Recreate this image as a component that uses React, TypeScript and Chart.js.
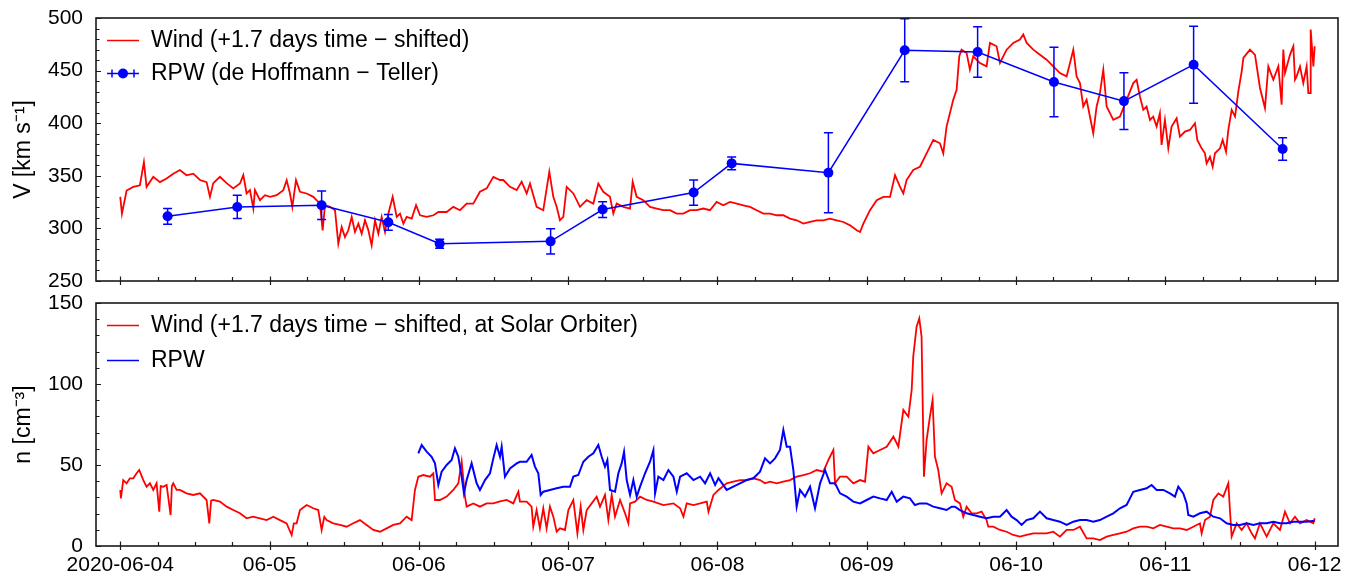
import React, { useEffect, useRef } from 'react';
import { Chart, registerables } from 'chart.js';

Chart.register(...registerables);

const FONT = "'Liberation Sans', Arial, sans-serif";
const RED = '#ff0000';
const BLUE = '#0000ff';

// x axis: hours since 2020-06-04 00:00
const X_MIN = -3.9;
const X_MAX = 195.75;
const xTickLabels = ['2020-06-04', '06-05', '06-06', '06-07', '06-08', '06-09', '06-10', '06-11', '06-12'];
const xTickHours = [0, 24, 48, 72, 96, 120, 144, 168, 192];
const vTicks = [250, 300, 350, 400, 450, 500];
const nTicks = [0, 50, 100, 150];

// ---- Top panel: Wind velocity (time-shifted) ----
const windVHours = [
  0.0, 0.27, 1.02, 2.09, 3.16, 3.8, 4.23, 5.31, 6.38, 7.45, 8.52, 9.59, 10.66, 11.74, 12.81, 13.88, 14.42, 14.95,
  16.02, 17.1, 18.17,
  19.24, 19.78, 20.31, 20.85, 21.39, 21.65, 22.46, 23.26, 24.07, 25.14, 26.21, 26.75, 27.28, 27.66, 28.25, 28.89,
  29.96, 31.03, 32.1, 32.53, 32.91, 33.71, 34.52, 35.05, 35.59, 36.12, 36.66, 37.2, 37.73, 38.27, 38.81, 39.34,
  39.88, 40.41, 40.95, 41.49, 42.02, 42.56, 43.1, 43.79, 44.44, 44.97, 45.51, 46.04, 46.85, 47.55, 48.19, 49.26,
  50.34, 51.14,
  52.47, 53.54, 54.61, 55.68, 56.75, 57.82, 58.9, 59.97, 61.04, 61.57, 62.65, 63.72, 64.52, 65.33, 65.86, 66.93,
  68.0, 68.97, 69.61, 70.15, 70.68, 71.22, 71.76, 72.83, 73.9, 74.97, 76.04, 76.85, 77.65, 78.72, 79.26, 79.8,
  80.87, 81.94, 82.37, 83.01, 84.08, 85.15, 86.23, 87.3, 88.37, 89.44, 90.51, 91.59, 92.66, 93.73, 94.8, 95.87,
  96.94, 98.02, 99.09, 100.16, 101.23, 102.3, 103.37, 104.45, 105.52, 106.59, 107.66, 108.73, 109.81, 110.88,
  111.95, 113.02, 114.09, 115.16, 116.24, 117.31, 118.38, 118.92, 119.45, 120.52, 121.6, 122.67, 123.74, 124.54,
  125.35, 125.87, 126.4, 127.47, 128.55, 129.62, 130.69, 131.76, 132.3, 132.83, 133.9, 134.44, 134.87, 135.24,
  136.05, 136.58, 137.12, 138.19, 139.26, 139.8, 140.87, 141.41, 142.48, 143.55, 144.62, 145.16, 145.7, 146.77,
  147.84, 148.91, 149.98, 151.05, 152.13, 153.2, 153.73, 154.27, 154.8, 155.34, 156.41, 156.95, 157.48, 158.02,
  158.56, 159.63, 160.7, 161.77, 162.84, 163.38,
  163.91, 164.45, 164.98, 165.52, 166.05, 166.59, 167.12, 167.39, 167.93, 168.47, 169.0, 169.81, 170.34, 171.15,
  171.95, 172.76, 173.13, 173.83, 174.36, 174.63, 175.17, 175.6, 175.97, 176.78, 177.21, 177.75, 178.12, 178.66,
  179.2, 179.73, 180.27, 180.54,
  181.6, 182.41, 183.21, 184.01, 184.55, 185.35, 186.16, 186.69, 186.96, 187.23, 188.03, 188.57, 188.84, 189.1,
  189.64, 190.17, 190.71, 190.98, 191.25, 191.36, 191.79, 192.0,
];
const windV = [
  330, 314, 336, 339.5, 341, 363, 339.5, 349, 344, 347.5, 352, 355.5, 350.5, 352, 346, 344, 330, 343,
  349, 343, 338,
  342.7, 350.7, 333.2, 336.4, 318.9, 336.4, 326.8, 331.6, 330, 331.6, 336.4, 345.9, 333.2, 320.5, 345.9, 334.8,
  333.2, 330, 323.6, 298.2, 322, 320.5, 317.3, 285.5, 301.3, 291.8, 298.2, 310.9, 296.6, 304.5, 295, 307.7,
  298.2, 283.9, 307.7, 295, 310.9, 296.6, 314.1, 330, 310.9, 314.1, 304.5, 310.9, 309.3, 322, 312.5, 310.9,
  312.5, 315.6,
  315.6, 320.5, 317.3, 323.6, 323.6, 334.8, 338, 349, 346, 346, 339.5, 336.4, 344.4, 333.2, 342.7, 320.5,
  317.3, 353.9, 330, 320.5, 307.7, 310.9, 339.5, 333.2, 320.5, 326.8, 323.6, 342.7, 334.8, 330, 314.1, 323.6,
  320.5, 318.9, 344.4, 330, 326.8, 320.5, 318.9, 317.3, 317.3, 314.1, 314.1, 317.3, 317.3, 318.9, 317.3, 325.2,
  322, 325.2, 323.6, 322, 320.5, 317.3, 314.1, 314.1, 312.5, 312.5, 309.3, 307.7, 304.5, 306.1,
  307.7, 307.7, 309.3, 307.7, 306.1, 302.9, 298.2, 296.6, 304.5, 317.3, 326.8, 330, 330, 350.7,
  339.5, 333.2, 346, 355.5, 358.6, 371.3, 384.1, 380.9, 371.3, 396.8, 422.2, 431.8, 463.6, 469.9,
  466.8, 450.9, 463.6, 457.2, 454, 476.3, 473.1, 457.2, 469.9, 476.3, 479.5, 484.3, 476.3, 469.9,
  465.1, 460.4, 454, 447.7, 444.5, 469.9, 444.5, 438.1, 415.9, 422.2, 390.4, 415.9, 428.6, 450.9,
  415.9, 403.2, 406.3, 422.2, 438.1, 441.3,
  425.4, 412.7, 415.8, 403.1, 406.3, 396.8, 409.5, 379.3, 403.1, 376.1, 396.8, 404.7, 387.2, 392,
  393.6, 400, 384.1, 376.1, 371.4, 361.8, 368.1, 358.6, 371.4, 376.1, 384.1, 372.9, 393.6, 412.7,
  406.3, 430.2, 449.3, 462,
  469.9, 465, 433.5, 414.4, 454, 441.3, 454, 417.6, 470, 447.7, 465, 473.1, 441.3, 444.5,
  454, 438.1, 454, 428.6, 428.6, 489, 454, 473.1,
];

// ---- Top panel: RPW de Hoffmann-Teller velocity with error bars ----
const rpwVHours = [7.61, 18.81, 32.37, 43.09, 51.34, 69.18, 77.54, 92.17, 98.28, 113.83, 126.1, 137.82, 150.09, 161.34, 172.54, 186.85];
const rpwV = [311.5, 320.4, 322, 305.8, 285.5, 287.7, 317.9, 334.1, 361.8, 352.9, 469.3, 467.7, 439.1, 421, 455.6, 375.5];
const rpwVErr = [7.5, 11, 13.5, 7.5, 4.3, 12, 7.5, 12, 6, 38, 30, 24, 33, 27, 36.6, 10.7];

// ---- Bottom panel: Wind density (time-shifted, at Solar Orbiter) ----
const windNHours = [
  0.0, 0.1, 0.48, 1.02, 1.55, 2.09, 2.63, 3.05, 3.7, 4.23, 4.77, 5.31, 5.84, 6.27, 6.5, 6.91, 7.45, 8.09, 8.3,
  8.52, 9.06, 9.59, 10.66, 11.74, 12.81, 13.88, 14.31, 14.6, 14.95, 16.02, 17.1, 18.17, 19.24, 20.31, 21.38,
  22.45, 23.53, 24.6, 25.67, 26.74, 27.55, 27.9, 28.35, 28.89, 29.96, 31.03, 31.83, 32.37, 32.8, 33.17, 34.24,
  35.32, 36.39, 37.46, 38.53, 39.6, 40.68, 41.75, 42.82, 43.89, 44.96, 46.03, 46.84, 47.37, 47.91, 48.71, 49.79,
  50.32, 50.59, 51.39, 52.47, 53.54, 54.34, 54.88, 55.41, 55.68, 56.75, 57.82, 58.9, 59.97, 61.04, 62.11, 63.18,
  63.99,
  64.25, 65.32, 66.12, 66.39, 66.93, 67.46, 68.0, 68.54, 69.07, 69.61, 70.15, 70.68, 71.49, 72.03, 72.83, 73.48,
  74.01, 74.44, 74.98, 75.78, 76.58, 77.12, 77.92, 78.46, 79.0, 79.53, 80.34, 81.14, 81.68, 81.95, 82.75, 83.56,
  84.63, 85.7, 87.31, 88.92, 89.99, 90.53, 91.06, 92.14, 93.21, 94.28, 94.55, 95.35, 96.16,
  97.48, 98.55, 99.62, 100.7, 101.77, 102.84,
  103.64, 104.45, 105.52, 106.59, 107.66, 108.73, 109.81, 110.88, 111.95, 113.02, 113.83, 114.63, 114.9, 115.7,
  116.77, 117.84, 118.92, 119.72, 120.26, 121.06, 122.13, 123.2, 124.28, 125.08, 125.88, 126.69, 127.22, 127.47,
  128.01, 128.44, 128.81, 129.19, 129.62, 130.15, 130.58, 130.96, 131.49, 132.03, 132.83, 133.64, 134.17, 134.98,
  135.51, 136.05, 136.85, 137.66, 138.46, 139.26, 139.53, 140.34, 141.41, 142.48, 143.55, 144.62, 145.69, 146.77,
  147.84, 148.91, 149.98, 151.05, 152.13, 153.2, 154.27, 155.34, 156.41, 157.48, 158.56, 159.63, 160.7, 161.77,
  162.84, 163.92, 164.99, 166.06, 167.13, 168.2, 169.27, 170.35, 171.42, 172.49, 173.56, 173.83, 174.37, 175.17,
  175.71, 176.51, 177.31, 178.12, 178.38, 178.65, 179.46, 180.26, 181.06, 181.87, 182.4, 183.21, 184.28, 185.35,
  186.42, 187.23, 188.03, 188.84, 189.64, 190.71, 191.78, 192.0,
];
const windN = [
  34.6, 29.4, 40.7, 38.7, 41.8, 41.8, 44.9, 46.9, 40.7, 36.6, 38.7, 34.6, 38.7, 21.2, 37, 36.6, 37.7, 19.1, 37,
  38.7, 34.6, 34.6, 32.5, 31.5, 32.5, 28.4, 14.0, 28, 28.4, 27.4, 24.3, 22.2, 20.2, 17.1, 18.1,
  17.1, 16.0, 18.1, 16.0, 14.0, 6.8, 14, 14.0, 22.2, 25.3, 23.3, 22.2, 9.9, 18, 16.0, 14.0,
  13.0, 11.9, 14.0, 16.0, 13.0, 9.9, 8.8, 10.9, 13.0, 14.0, 18.1, 16.0, 34.6, 42.8, 43.8, 42.8,
  44.9, 28.4, 28.4, 30.5, 34.6, 38.7, 52.1, 30.5, 24.3, 26.3, 24.3, 26.3, 26.3, 27.5, 28.4, 26.3,
  33.5,
  27.4, 27.4, 24.3, 11.9, 22.2, 10.9, 23.3, 10.9, 24.3, 18.1, 8.8, 10.9, 9.9, 22.2, 28.4, 7.8,
  24.3, 9.9, 22.2, 26.3, 30.5, 24.3, 31.5, 16, 31.5, 18.1, 28.4, 20.2, 14, 26.3, 27.4, 30.5,
  28.4, 27.4, 25.3, 26.3, 23.3, 18.1, 26.3, 25.3, 26.3, 27.4, 21.2, 31.5, 34.6,
  38.7, 39.7, 40.7, 40.7, 41.8, 40.7,
  38.7, 39.7, 38.7, 39.7, 40.7, 42.8, 43.8, 44.9, 46.9, 45.9, 53.1, 59.3, 38.7, 42.8,
  42.8, 38.7, 40.7, 39.7, 61.3, 57.2, 59.3, 61.3, 67.5, 61.3, 84.0, 79.8, 96.3, 116.9,
  135.4, 140.5, 129.2, 42.8, 65.4, 79.8, 90.1, 55.1, 46.9, 32.5, 38.7, 36.6, 28.4, 26.3,
  18.1, 24.3, 20.2, 20.2, 21.2, 16.0, 11.9, 11.9, 9.9, 8.8, 6.8, 5.8, 6.8, 7.8,
  7.8, 7.8, 8.8, 5.8, 9.9, 9.9, 11.9, 4.7, 4.7, 3.7, 5.8, 6.8, 7.8, 8.8,
  10.9, 11.9, 11.9, 10.9, 13.0, 11.9, 10.9, 10.9, 9.9, 11.9, 14.0, 7.8, 16.0, 18.1,
  28.4, 32.5, 30.5, 38.7, 22.2, 5.8, 14.0, 9.9, 14.0, 7.8, 4.7, 14.0, 5.8, 14.0,
  9.9, 21.2, 14.0, 18.1, 14.0, 16.0, 14.0, 17.1,
];

// ---- Bottom panel: RPW density ----
const rpwNHours = [
  47.91, 48.45, 49.25, 50.05, 50.59, 51.13, 51.66, 52.47, 53.27, 53.8, 54.34, 54.88, 55.25, 55.68, 56.48, 57.29,
  57.82, 58.63, 59.43, 59.97, 60.5, 61.04, 61.31, 61.84, 62.65, 63.72,
  64.25, 65.32, 66.12, 66.66, 67.2, 67.58, 68.0, 69.07, 70.15, 71.22, 72.29, 72.83, 73.63, 74.44, 75.24, 76.05,
  76.85, 77.39, 77.92, 78.3, 78.73, 79.53, 80.07, 80.6, 80.98, 81.41, 81.95, 82.48, 83.02, 83.56, 84.36, 85.16,
  85.7, 85.97, 86.5, 87.31, 88.11, 88.92, 89.46, 89.99, 91.06, 92.14, 93.21, 94.01, 94.82, 95.62, 96.16,
  97.48, 98.55, 99.62, 100.7, 101.77, 102.84, 103.64, 104.45, 105.25, 106.05, 106.59, 107.13,
  107.66, 108.2, 108.73, 109.27, 110.07, 110.88, 111.68, 112.49, 113.29, 114.09, 114.9, 115.7, 116.77, 117.84,
  118.92, 119.99, 121.06, 122.13, 123.2, 124.01, 124.81, 125.88, 126.94, 127.74, 128.55, 129.62, 130.69, 131.76,
  132.83, 133.64, 134.17, 134.98, 136.05, 137.12, 138.19, 139.26, 140.34, 141.41, 142.48, 143.28, 144.09, 144.89,
  145.69, 146.77, 147.84, 148.91, 149.98, 151.05, 152.13, 153.2, 154.27, 155.34, 156.41, 157.48, 158.56, 159.63,
  160.7, 161.77, 162.31, 162.84, 163.92, 164.99, 165.79, 166.59, 167.67, 168.74, 169.54, 170.08, 170.88, 171.42,
  171.69, 172.49, 173.56, 174.63, 175.71, 176.78, 177.85, 178.92, 179.99, 181.06, 182.14, 183.21, 184.28, 185.35,
  186.42, 187.49, 188.57, 189.64, 190.71, 192.0,
];
const rpwN = [
  57.2, 62.3, 58.2, 55.1, 51.0, 37.7, 45.9, 50.0, 53.1, 60.3, 55.1, 42.8, 32.5, 40.7, 51.0, 38.7,
  34.6, 40.7, 44.9, 54.1, 62.3, 55.1, 61.3, 42.8, 47.9, 51.0,
  52, 52, 56.2, 49, 44.9, 31.5, 33.5, 34.6, 35.6, 36.6, 36.6, 42.8, 43.8, 52, 55.1, 57.2,
  62.3, 55.1, 49, 53, 34.6, 33.5, 44.9, 51, 58.2, 40.7, 31.5, 40.7, 30.5, 36.6, 44.9, 52,
  59.1, 32.5, 42.8, 40.7, 46.9, 42.8, 33.5, 42.8, 44.9, 40.7, 42.8, 38.7, 44.9, 37.7, 41.8,
  34.6, 36.6, 38.7, 40.7, 41.8, 45.9, 54.1, 51.0, 54.1, 59.3, 71.6, 61.3,
  61.3, 46.9, 24.3, 34.6, 30.5, 36.6, 23.3, 38.7, 46.9, 38.7, 38.7, 32.5, 30.5, 27.4,
  26.3, 28.4, 30.5, 29.4, 28.4, 33.5, 27.4, 30.5, 29.4, 25.3, 26.3, 26.3, 24.3, 23.3,
  22.2, 24.3, 24.3, 22.2, 20.2, 19.1, 18.1, 17.1, 18.1, 18.1, 22.2, 18.1, 16.0, 13.0,
  16.0, 17.1, 21.2, 17.1, 16.0, 15.0, 13.0, 15.0, 16.0, 16.0, 15.0, 16.0, 18.1, 20.2,
  23.3, 25.3, 29.4, 33.5, 34.6, 35.6, 37.7, 34.6, 34.6, 32.5, 30.5, 36.6, 32.5, 26.3,
  19.1, 18.1, 20.2, 21.2, 18.1, 17.1, 14.0, 13.0, 13.0, 14.0, 13.0, 14.0, 14.0, 15.0,
  14.0, 14.0, 15.0, 15.0, 15.0, 15.6,
];

const pts = (xs: number[], ys: number[]) => xs.map((x, i) => ({ x, y: ys[i] }));

const framePlugin = {
  id: 'frame',
  afterDraw(chart: any, _args: any, opts: any) {
    const { ctx, chartArea } = chart;
    const { left, right, top, bottom } = chartArea;
    const xs = chart.scales.x;
    const ys = chart.scales.y;
    ctx.save();
    ctx.strokeStyle = '#1a1a1a';
    ctx.lineWidth = 1.2;
    ctx.beginPath();
    for (let h = Math.ceil(xs.min / opts.xMinor) * opts.xMinor; h <= xs.max; h += opts.xMinor) {
      const px = Math.round(xs.getPixelForValue(h)) + 0.5;
      const major = Math.abs(h % opts.xMajor) < 1e-6;
      ctx.moveTo(px, bottom + (major ? 4 : 0));
      ctx.lineTo(px, bottom - (major ? 4.5 : 4));
    }
    for (let v = ys.min; v <= ys.max + 1e-6; v += opts.yMinor) {
      const py = Math.round(ys.getPixelForValue(v)) + 0.5;
      const major = Math.abs(v % opts.yMajor) < 1e-6;
      ctx.moveTo(left, py);
      ctx.lineTo(left + (major ? 5 : 3.5), py);
    }
    ctx.stroke();
    ctx.lineWidth = 1.6;
    ctx.strokeRect(left, top, right - left, bottom - top);
    ctx.restore();
  },
};

const errorBarPlugin = {
  id: 'errorBars',
  beforeDatasetDraw(chart: any, args: any) {
    const ds = chart.data.datasets[args.index];
    if (!ds.yErr) return;
    const xs = chart.scales.x;
    const ys = chart.scales.y;
    const ctx = chart.ctx;
    const a = chart.chartArea;
    ctx.save();
    ctx.beginPath();
    ctx.rect(a.left, a.top, a.right - a.left, a.bottom - a.top);
    ctx.clip();
    ctx.strokeStyle = ds.borderColor;
    ctx.lineWidth = 1.5;
    ctx.beginPath();
    ds.data.forEach((p: any, i: number) => {
      const e = ds.yErr[i];
      const px = xs.getPixelForValue(p.x);
      const y1 = ys.getPixelForValue(p.y - e);
      const y2 = ys.getPixelForValue(p.y + e);
      ctx.moveTo(px, y1);
      ctx.lineTo(px, y2);
      ctx.moveTo(px - 4.5, y1);
      ctx.lineTo(px + 4.5, y1);
      ctx.moveTo(px - 4.5, y2);
      ctx.lineTo(px + 4.5, y2);
    });
    ctx.stroke();
    ctx.restore();
  },
};

// legend drawn inside the plot area, top-left, from the datasets' labels
const legendPlugin = {
  id: 'inLegend',
  afterDraw(chart: any, _args: any, opts: any) {
    const { ctx, chartArea } = chart;
    ctx.save();
    chart.data.datasets.forEach((ds: any, i: number) => {
      const cy = Math.round(chartArea.top + opts.firstY + i * opts.spacing) + 0.5;
      const x0 = chartArea.left + 11;
      ctx.strokeStyle = ds.borderColor;
      ctx.fillStyle = ds.borderColor;
      ctx.lineWidth = 1.5;
      ctx.beginPath();
      ctx.moveTo(x0, cy);
      ctx.lineTo(x0 + 32, cy);
      if (ds.yErr) {
        ctx.moveTo(x0 + 5, cy - 4);
        ctx.lineTo(x0 + 5, cy + 4);
        ctx.moveTo(x0 + 27, cy - 4);
        ctx.lineTo(x0 + 27, cy + 4);
      }
      ctx.stroke();
      if (ds.yErr) {
        ctx.beginPath();
        ctx.arc(x0 + 16, cy, 5, 0, Math.PI * 2);
        ctx.fill();
      }
      ctx.fillStyle = '#000';
      ctx.font = `23px ${FONT}`;
      ctx.textAlign = 'left';
      ctx.textBaseline = 'alphabetic';
      ctx.fillText(ds.label, x0 + 44, cy + 6);
    });
    ctx.restore();
  },
};

function xScale(showLabels: boolean, height: number) {
  return {
    type: 'linear',
    min: X_MIN,
    max: X_MAX,
    grid: { display: false, drawTicks: false },
    border: { display: false },
    afterBuildTicks: (s: any) => {
      s.ticks = xTickHours.map((v) => ({ value: v }));
    },
    ticks: {
      display: showLabels,
      autoSkip: false,
      maxRotation: 0,
      padding: 7,
      color: '#000',
      font: { family: FONT, size: 21 },
      callback: (_v: any, i: number) => xTickLabels[i],
    },
    afterFit: (s: any) => {
      s.height = height;
      s.paddingLeft = 0;
      s.paddingRight = 0;
      s.paddingTop = 0;
      s.paddingBottom = 0;
    },
  };
}

function yScale(min: number, max: number, ticks: number[], title: string) {
  return {
    min,
    max,
    grid: { display: false, drawTicks: false },
    border: { display: false },
    afterBuildTicks: (s: any) => {
      s.ticks = ticks.map((v) => ({ value: v }));
    },
    ticks: { padding: 13, color: '#000', font: { family: FONT, size: 21 } },
    title: {
      display: true,
      text: title,
      color: '#000',
      font: { family: FONT, size: 23 },
      padding: { top: 10, bottom: 0 },
    },
    afterFit: (s: any) => {
      s.width = 96;
      s.paddingLeft = 0;
      s.paddingRight = 0;
      s.paddingTop = 0;
      s.paddingBottom = 0;
    },
  };
}

export default function App() {
  const topRef = useRef<HTMLCanvasElement>(null);
  const botRef = useRef<HTMLCanvasElement>(null);

  useEffect(() => {
    const top = new Chart(topRef.current as HTMLCanvasElement, {
      type: 'line',
      data: {
        datasets: [
          {
            label: 'Wind (+1.7 days time − shifted)',
            data: pts(windVHours, windV),
            borderColor: RED,
            backgroundColor: RED,
            borderWidth: 1.8,
            pointRadius: 0,
            pointHoverRadius: 0,
            order: 2,
          },
          {
            label: 'RPW (de Hoffmann − Teller)',
            data: pts(rpwVHours, rpwV),
            yErr: rpwVErr,
            borderColor: BLUE,
            backgroundColor: BLUE,
            borderWidth: 1.5,
            pointRadius: 5,
            pointHoverRadius: 5,
            pointBackgroundColor: BLUE,
            pointBorderWidth: 0,
            order: 1,
          } as any,
        ],
      },
      options: {
        responsive: false,
        animation: false,
        devicePixelRatio: 1,
        events: [],
        layout: { padding: { top: 18, right: 9, left: 0, bottom: 0 } },
        scales: {
          x: xScale(false, 9) as any,
          y: yScale(250, 500, vTicks, 'V [km s⁻¹]') as any,
        },
        plugins: {
          legend: { display: false },
          tooltip: { enabled: false },
          frame: { xMinor: 6, xMajor: 24, yMinor: 10, yMajor: 50 },
          inLegend: { firstY: 22, spacing: 33 },
        } as any,
      },
      plugins: [framePlugin, errorBarPlugin, legendPlugin],
    });

    const bot = new Chart(botRef.current as HTMLCanvasElement, {
      type: 'line',
      data: {
        datasets: [
          {
            label: 'Wind (+1.7 days time − shifted, at Solar Orbiter)',
            data: pts(windNHours, windN),
            borderColor: RED,
            backgroundColor: RED,
            borderWidth: 1.8,
            pointRadius: 0,
            pointHoverRadius: 0,
            order: 2,
          },
          {
            label: 'RPW',
            data: pts(rpwNHours, rpwN),
            borderColor: BLUE,
            backgroundColor: BLUE,
            borderWidth: 2,
            pointRadius: 0,
            pointHoverRadius: 0,
            order: 1,
          },
        ],
      },
      options: {
        responsive: false,
        animation: false,
        devicePixelRatio: 1,
        events: [],
        layout: { padding: { top: 13, right: 9, left: 0, bottom: 0 } },
        scales: {
          x: xScale(true, 29) as any,
          y: yScale(0, 150, nTicks, 'n [cm⁻³]') as any,
        },
        plugins: {
          legend: { display: false },
          tooltip: { enabled: false },
          frame: { xMinor: 6, xMajor: 24, yMinor: 10, yMajor: 50 },
          inLegend: { firstY: 22, spacing: 35 },
        } as any,
      },
      plugins: [framePlugin, errorBarPlugin, legendPlugin],
    });

    return () => {
      top.destroy();
      bot.destroy();
    };
  }, []);

  return (
    <div style={{ position: 'absolute', left: 0, top: 0, width: 1347, height: 575, background: '#fff' }}>
      <canvas ref={topRef} width={1347} height={290} style={{ position: 'absolute', left: 0, top: 0, display: 'block' }} />
      <canvas ref={botRef} width={1347} height={285} style={{ position: 'absolute', left: 0, top: 290, display: 'block' }} />
    </div>
  );
}
